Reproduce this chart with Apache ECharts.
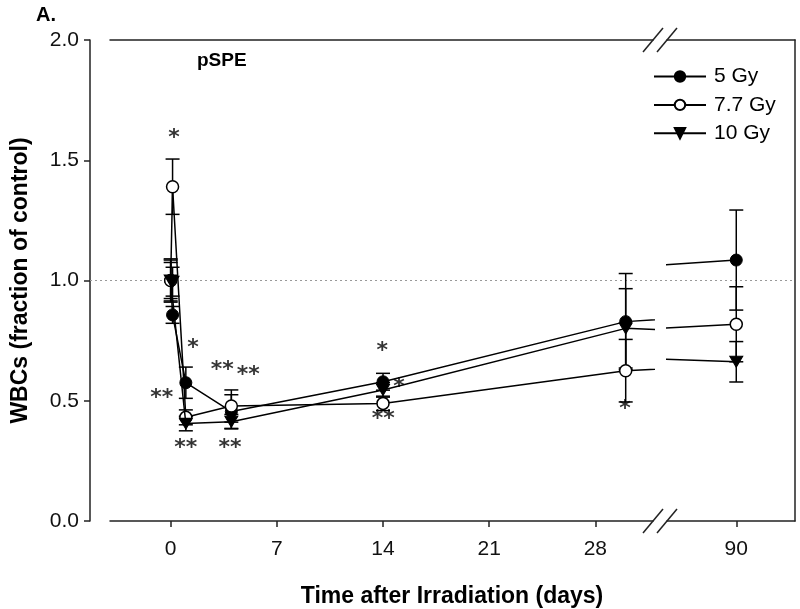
<!DOCTYPE html>
<html><head><meta charset="utf-8">
<script src="https://cdn.jsdelivr.net/npm/echarts@6/dist/echarts.min.js"></script>
<style>html,body{margin:0;padding:0;background:#fff}#c{width:800px;height:609px}</style>
</head><body><div id="c"></div>
<script>
// ---- data ----
const days = [0, 0.125, 1, 4, 14, 30, 90];
const gy5 = [1.0, 0.857, 0.575, 0.455, 0.579, 0.829, 1.085];
const gy5Err = [0.075, 0.035, 0.065, 0.07, 0.035, 0.2, 0.208];
const gy77 = [1.0, 1.39, 0.431, 0.478, 0.489, 0.625, 0.818];
const gy77Err = [0.085, 0.115, 0.031, 0.067, 0.03, 0.13, 0.156];
const gy10 = [1.0, 0.995, 0.405, 0.413, 0.545, 0.801, 0.662];
const gy10Err = [0.09, 0.06, 0.03, 0.03, 0.03, 0.165, 0.084];
const seriesNames = ['5 Gy', '7.7 Gy', '10 Gy'];
const xTicksLeft = [0, 7, 14, 21, 28];
const xTicksRight = [90];
const controlLevel = 1.0;
const sigLabels = ['*', '*', '**', '**', '**', '**', '**', '*', '*', '**', '*'];
const sigDays = [0.22, 1.48, -0.58, 0.99, 3.40, 5.12, 3.91, 13.95, 15.05, 14.02, 29.95];
const sigValues = [1.591, 0.718, 0.510, 0.304, 0.628, 0.607, 0.304, 0.704, 0.554, 0.424, 0.466];

// ---- layout ----
const TOP = 40, H = 481;
const L1 = 110, W1 = 543, X1MIN = -4, X1MAX = 31.8;
const L2 = 667, W2 = 128, X2MIN = 85.4, X2MAX = 93.9;
const AX = '#222', FONT = "'Liberation Sans', Arial, sans-serif";

const chart = echarts.init(document.getElementById('c'), null, {renderer: 'canvas'});

const values = [gy5, gy77, gy10];
const errs = [gy5Err, gy77Err, gy10Err];
const symbols = [
  {symbol: 'circle', symbolSize: 12, symbolRotate: 0, itemStyle: {color: '#000', borderColor: '#000', borderWidth: 1}},
  {symbol: 'circle', symbolSize: 12, symbolRotate: 0, itemStyle: {color: '#fff', borderColor: '#000', borderWidth: 1.5}},
  {symbol: 'triangle', symbolSize: [13, 11], symbolRotate: 180, itemStyle: {color: '#000', borderColor: '#000', borderWidth: 1}}
];

function errRender(params, api) {
  const x = api.value(0), y = api.value(1), e = api.value(2);
  const t = api.coord([x, y + e]), b = api.coord([x, y - e]);
  const c = 7;
  const st = {stroke: '#000', lineWidth: 1.5};
  return {type: 'group', children: [
    {type: 'line', shape: {x1: t[0], y1: t[1], x2: b[0], y2: b[1]}, style: st},
    {type: 'line', shape: {x1: t[0] - c, y1: t[1], x2: t[0] + c, y2: t[1]}, style: st},
    {type: 'line', shape: {x1: b[0] - c, y1: b[1], x2: b[0] + c, y2: b[1]}, style: st}
  ]};
}
function errData(lo, hi) {
  const out = [];
  values.forEach((vals, s) => days.forEach((d, j) => {
    if (d >= lo && d <= hi) out.push([d, vals[j], errs[s][j]]);
  }));
  return out;
}

const series = [];
// dotted control line across whole plot
series.push({type: 'line', xAxisIndex: 4, yAxisIndex: 2, data: [[0, controlLevel], [1, controlLevel]],
  showSymbol: false, silent: true, lineStyle: {type: [2, 3], color: '#999', width: 1}, z: 1});
// error bars
series.push({type: 'custom', xAxisIndex: 0, yAxisIndex: 0, renderItem: errRender, data: errData(X1MIN, X1MAX), clip: true, z: 2, silent: true});
series.push({type: 'custom', xAxisIndex: 2, yAxisIndex: 1, renderItem: errRender, data: errData(X2MIN, X2MAX), clip: true, z: 2, silent: true});
// lines
seriesNames.forEach((name, s) => {
  [[0, 0], [2, 1]].forEach(([xi, yi]) => {
    series.push(Object.assign({
      name, type: 'line', xAxisIndex: xi, yAxisIndex: yi,
      data: days.map((d, j) => [d, values[s][j]]),
      clip: true, showAllSymbol: true, z: 3 + s,
      lineStyle: {color: '#000', width: 1.5}
    }, symbols[s]));
  });
});
// significance asterisks
series.push({type: 'scatter', xAxisIndex: 0, yAxisIndex: 0, symbolSize: 1, silent: true, z: 10,
  itemStyle: {color: 'rgba(0,0,0,0)'},
  data: sigDays.map((d, i) => ({value: [d, sigValues[i]], name: sigLabels[i]})),
  label: {show: true, position: 'inside', formatter: '{b}', fontSize: 22, fontWeight: 'bold', color: '#000',
    fontFamily: "'DejaVu Sans', sans-serif"}
});

const lineAx = {show: true, onZero: false, lineStyle: {color: AX, width: 1.5}};
const option = {
  animation: false,
  backgroundColor: '#fff',
  textStyle: {fontFamily: FONT},
  title: [
    {text: 'A.', left: 31, top: 0, textStyle: {fontSize: 20, fontWeight: 'bold', color: '#000', fontFamily: FONT}},
    {text: 'pSPE', left: 192, top: 46, textStyle: {fontSize: 19, fontWeight: 'bold', color: '#000', fontFamily: FONT}}
  ],
  legend: {
    data: seriesNames, orient: 'vertical', left: 648, top: 61,
    itemWidth: 52, itemHeight: 13, itemGap: 7.4,
    textStyle: {fontSize: 21, color: '#000', fontFamily: FONT, lineHeight: 20, padding: [0, 0, 0, 3]},
    selectedMode: false
  },
  grid: [
    {left: L1, top: TOP, width: W1, height: H},
    {left: L2, top: TOP, width: W2, height: H},
    {left: 90, top: TOP, width: 705, height: H}
  ],
  xAxis: [
    {gridIndex: 0, type: 'value', min: X1MIN, max: X1MAX, position: 'bottom',
      axisLine: lineAx, splitLine: {show: false},
      axisTick: {show: true, customValues: xTicksLeft, length: 6, lineStyle: {color: AX, width: 1.5}},
      axisLabel: {customValues: xTicksLeft, fontSize: 21, color: '#111', margin: 18, fontFamily: FONT}},
    {gridIndex: 0, type: 'value', min: X1MIN, max: X1MAX, position: 'top',
      axisLine: lineAx, axisTick: {show: false}, axisLabel: {show: false}, splitLine: {show: false}},
    {gridIndex: 1, type: 'value', min: X2MIN, max: X2MAX, position: 'bottom',
      axisLine: lineAx, splitLine: {show: false},
      axisTick: {show: true, customValues: xTicksRight, length: 6, lineStyle: {color: AX, width: 1.5}},
      axisLabel: {customValues: xTicksRight, fontSize: 21, color: '#111', margin: 18, fontFamily: FONT}},
    {gridIndex: 1, type: 'value', min: X2MIN, max: X2MAX, position: 'top',
      axisLine: lineAx, axisTick: {show: false}, axisLabel: {show: false}, splitLine: {show: false}},
    {gridIndex: 2, type: 'value', min: 0, max: 1, show: false}
  ],
  yAxis: [
    {gridIndex: 0, type: 'value', min: 0, max: 2, interval: 0.5, position: 'left', offset: 20,
      axisLine: lineAx, splitLine: {show: false},
      axisTick: {show: true, length: 6, lineStyle: {color: AX, width: 1.5}},
      axisLabel: {formatter: v => v.toFixed(1), fontSize: 21, color: '#111', margin: 11, fontFamily: FONT},
      name: 'WBCs (fraction of control)', nameLocation: 'middle', nameGap: 58,
      nameTextStyle: {fontSize: 23, fontWeight: 'bold', color: '#000', fontFamily: FONT}},
    {gridIndex: 1, type: 'value', min: 0, max: 2, position: 'right',
      axisLine: lineAx, axisTick: {show: false}, axisLabel: {show: false}, splitLine: {show: false}},
    {gridIndex: 2, type: 'value', min: 0, max: 2, show: false}
  ],
  series
};
chart.setOption(option);

// axis break marks (//) at the ends of the two axis segments, top and bottom
const gfx = [];
[[0, 0, X1MAX], [2, 1, X2MIN]].forEach(([xi, yi, xv]) => {
  [0, 2].forEach(yv => {
    const p = chart.convertToPixel({xAxisIndex: xi, yAxisIndex: yi}, [xv, yv]);
    gfx.push({type: 'line', silent: true, z: 20,
      shape: {x1: p[0] - 10, y1: p[1] + 12, x2: p[0] + 10, y2: p[1] - 12},
      style: {stroke: AX, lineWidth: 1.5}});
  });
});
gfx.push({type: 'text', silent: true, x: 452, y: 597,
  style: {text: 'Time after Irradiation (days)', fontSize: 23, fontWeight: 'bold', fontFamily: FONT,
    fill: '#000', textAlign: 'center', textVerticalAlign: 'middle'}});
chart.setOption({graphic: gfx});
</script>
</body></html>
